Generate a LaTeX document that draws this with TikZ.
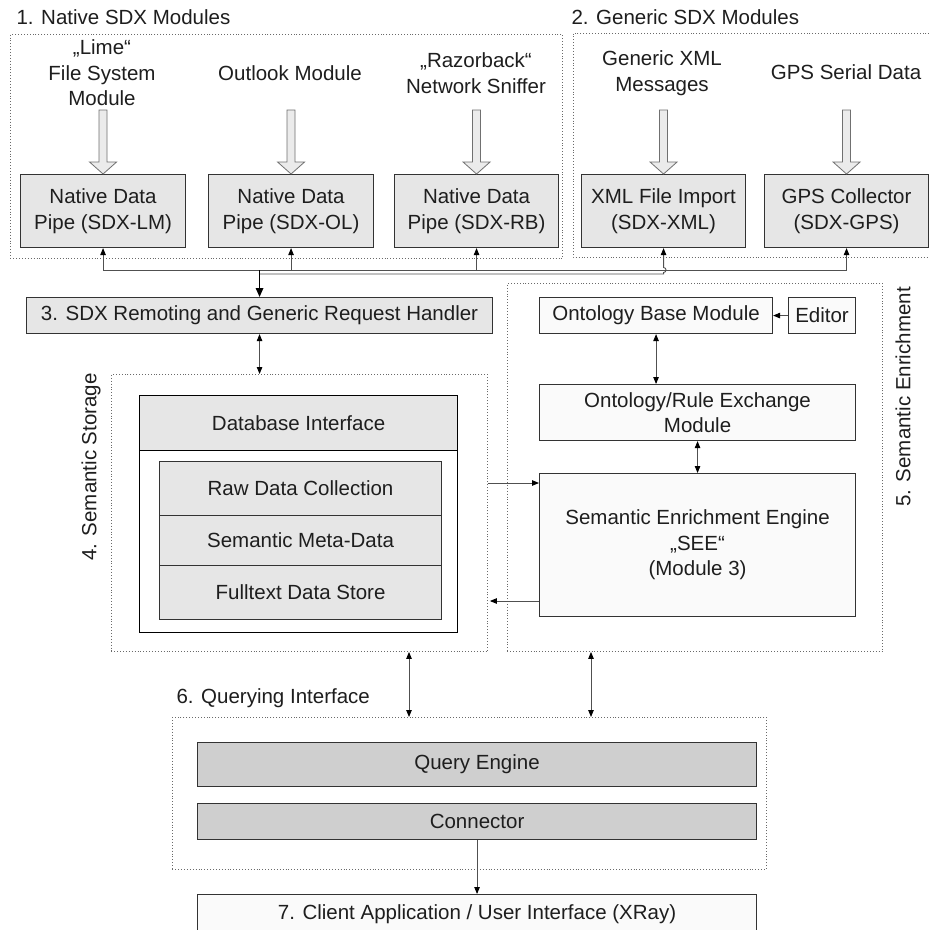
\documentclass[tikz,border=0pt]{standalone}
\usepackage{fontspec}
\setmainfont{Liberation Sans}
\usetikzlibrary{arrows.meta,calc}

\definecolor{ink}{HTML}{1E1E1E}
\definecolor{edge}{HTML}{333333}
\definecolor{boxgray}{HTML}{E6E6E6}
\definecolor{boxlight}{HTML}{FAFAFA}
\definecolor{boxmid}{HTML}{CFCFCF}
\definecolor{dots}{HTML}{6A6A6A}
\definecolor{wire}{HTML}{505050}
\definecolor{arrowfill}{HTML}{EBEBEB}
\definecolor{arrowedge}{HTML}{707070}

\tikzset{
  tip/.tip={Triangle[length=7pt,width=5.5pt,color=black]},
  bigtip/.tip={Triangle[length=9pt,width=7.5pt,color=black]},
  box/.style={draw=edge, line width=1.1pt, inner sep=0pt, align=center, anchor=north west},
  graybox/.style={box, fill=boxgray},
  lightbox/.style={box, fill=boxlight},
  midbox/.style={box, fill=boxmid},
  grp/.style={draw=dots, dotted, line width=0.9pt, inner sep=0pt, anchor=north west},
  wireline/.style={draw=wire, line width=0.9pt},
  mainline/.style={draw=black, line width=1.5pt},
  blockarrow/.pic={
    \draw[fill=arrowfill, draw=arrowedge, line width=0.8pt]
      (-4,-64) -- (-4,-12) -- (-13.5,-12) -- (0,0) -- (13.5,-12) -- (4,-12) -- (4,-64) -- cycle;
  }
}

\begin{document}
\begin{tikzpicture}[x=1pt, y=-1pt, font=\fontsize{20.5}{25.5}\selectfont, text=ink]
\useasboundingbox (0,0) rectangle (929,930);
\fill[white] (0,0) rectangle (929,930);

% ---- group frames and their titles
\node[grp, minimum width=552pt, minimum height=224pt] (native) at (10,34) {};
\draw[draw=dots, dotted, line width=0.9pt] (935,33) -- (573,33) -- (573,257) -- (935,257);
\node[grp, minimum width=376pt, minimum height=277pt] (storage) at (111,374) {};
\node[grp, minimum width=375pt, minimum height=368pt] (enrich) at (507,283) {};
\node[grp, minimum width=594pt, minimum height=152pt] (query) at (172,717) {};

\node[anchor=west] (t1) at (13,17) {1. Native SDX Modules};
\node[anchor=west] (t2) at (568,17) {2. Generic SDX Modules};
\node[anchor=west] (t6) at (173,698) {6. Querying Interface};
\node[rotate=90] (t4) at (91,467) {4. Semantic Storage};
\node[rotate=90] (t5) at (903,397) {5. Semantic Enrichment};

% ---- data sources
\node[align=center] (srcLM) at (102,73) {„Lime“\\File System\\Module};
\node (srcOL) at (290,73) {Outlook Module};
\node[align=center] (srcRB) at (476,73) {„Razorback“\\Network Sniffer};
\node[align=center] (srcXML) at (662,73) {Generic XML\\Messages};
\node (srcGPS) at (846,72) {GPS Serial Data};

% ---- data pipes
\node[graybox, minimum width=165pt, minimum height=73pt] (lm) at (20,174) {Native Data\\Pipe (SDX-LM)};
\node[graybox, minimum width=165pt, minimum height=73pt] (ol) at (208,174) {Native Data\\Pipe (SDX-OL)};
\node[graybox, minimum width=164pt, minimum height=73pt] (rb) at (394,174) {Native Data\\Pipe (SDX-RB)};
\node[graybox, minimum width=164pt, minimum height=73pt] (xml) at (581,174) {XML File Import\\(SDX-XML)};
\node[graybox, minimum width=164pt, minimum height=73pt] (gps) at (764,174) {GPS Collector\\(SDX-GPS)};

\foreach \p in {lm,ol,rb,xml,gps} { \pic at (\p.north) {blockarrow}; }

% ---- request handler
\node[graybox, minimum width=466pt, minimum height=36pt] (handler) at (26,297) {3. SDX Remoting and Generic Request Handler};

% ---- bus between pipes and handler
\coordinate (busY) at (0,270);
\coordinate (bustwoY) at (0,274);
\draw[wireline] (lm.south |- busY) -- (gps.south |- busY);
\foreach \p in {lm,ol,rb,gps} { \draw[wireline, -tip] (\p.south |- busY) -- (\p.south); }
\draw[wireline, -tip] (handler.north |- bustwoY) -- (xml.south |- bustwoY) -- ++(0,-1.5)
  arc[start angle=-90, end angle=90, radius=2.5pt] -- (xml.south);
\draw[mainline, -bigtip] (handler.north |- busY) -- (handler.north);

% ---- semantic storage
\node[box, fill=white, draw=black, line width=1.2pt, minimum width=318pt, minimum height=237pt] (dbouter) at (139,395) {};
\node[graybox, draw=black, line width=1.2pt, minimum width=318pt, minimum height=55pt] (dbhead) at (139,395) {Database Interface};
\node[graybox, minimum width=282pt, minimum height=54pt] (raw) at (159,461) {Raw Data Collection};
\node[graybox, minimum width=282pt, minimum height=50pt] (meta) at (159,515) {Semantic Meta-Data};
\node[graybox, minimum width=282pt, minimum height=54pt] (full) at (159,565) {Fulltext Data Store};

\draw[wireline, tip-tip] (handler.south) -- (handler.south |- storage.north);

% ---- semantic enrichment
\node[lightbox, minimum width=233pt, minimum height=36pt] (obm) at (539,297) {Ontology Base Module};
\node[lightbox, minimum width=67pt, minimum height=36pt] (editor) at (788,297) {Editor};
\node[lightbox, minimum width=316pt, minimum height=56pt] (ore) at (539,384) {Ontology/Rule Exchange\\Module};
\node[lightbox, minimum width=316pt, minimum height=143pt] (see) at (539,473) {Semantic Enrichment Engine\\„SEE“\\(Module 3)};

\draw[wireline, -tip] (editor.west) -- (obm.east);
\draw[wireline, tip-tip] (obm.south) -- (obm.south |- ore.north);
\draw[wireline, tip-tip] (ore.south) -- (see.north);

\coordinate (inY) at (0,483);
\coordinate (outY) at (0,601);
\draw[wireline, -tip] (storage.east |- inY) -- (see.west |- inY);
\draw[wireline, -tip] (see.west |- outY) -- ([xshift=2pt]storage.east |- outY);

% ---- querying interface and client
\node[midbox, minimum width=559pt, minimum height=44pt] (qe) at (197,742) {Query Engine};
\node[midbox, minimum width=559pt, minimum height=36pt] (conn) at (197,803) {Connector};
\node[lightbox, minimum width=559pt, minimum height=40pt] (client) at (197,894) {7. Client Application / User Interface (XRay)};

\coordinate (qL) at (409,0);
\coordinate (qR) at (591,0);
\draw[wireline, tip-tip] (storage.south -| qL) -- (query.north -| qL);
\draw[wireline, tip-tip] (enrich.south -| qR) -- (query.north -| qR);
\draw[wireline, -tip] (conn.south) -- (client.north);
\end{tikzpicture}
\end{document}
